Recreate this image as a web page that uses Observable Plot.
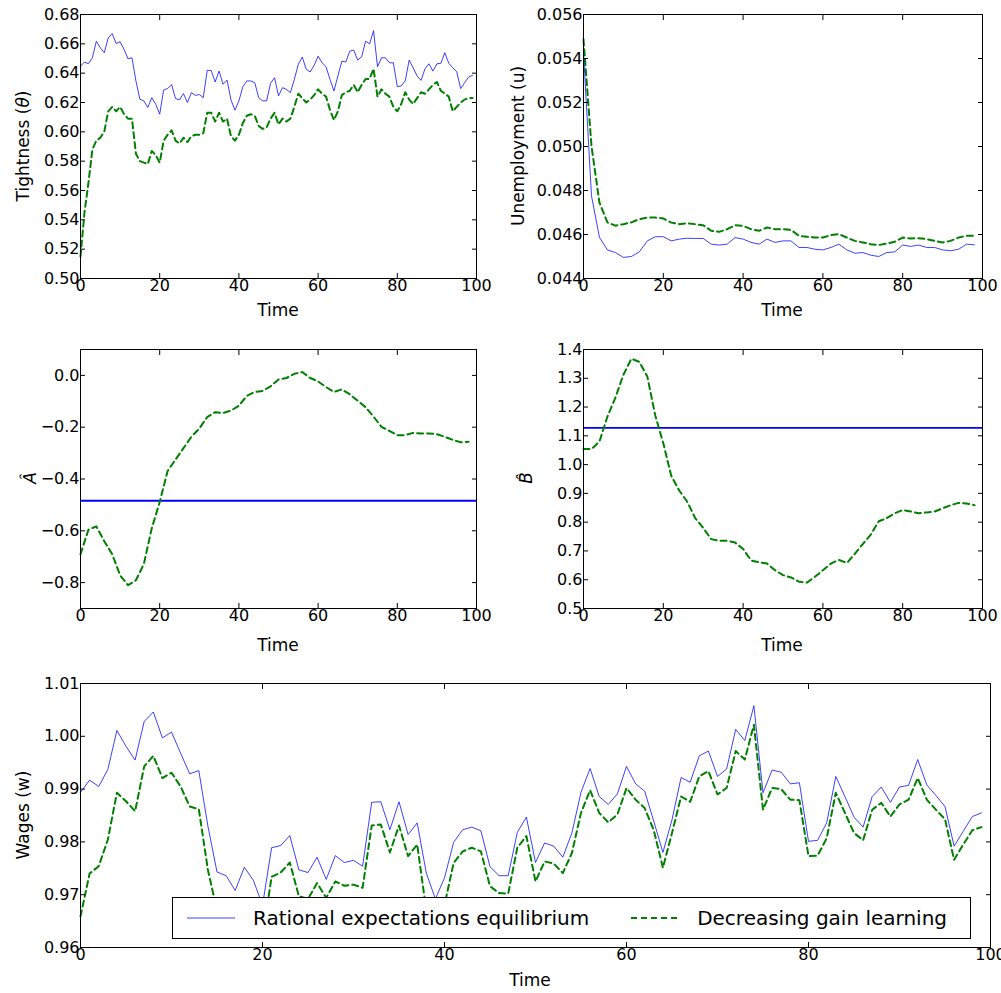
<!DOCTYPE html>
<html><head><meta charset="utf-8">
<script src="https://cdn.jsdelivr.net/npm/d3@7"></script>
<script src="https://cdn.jsdelivr.net/npm/@observablehq/plot@0.6"></script>
<style>
body{margin:0;background:#fff;font-family:"DejaVu Sans",sans-serif;}
#fig{position:relative;width:1001px;height:993px;}
#fig svg{position:absolute;overflow:visible;}
.lab{position:absolute;font-size:17px;color:#000;white-space:nowrap;}
.rot{transform:translate(-50%,-50%) rotate(-90deg);}
.hc{transform:translateX(-50%);}
#legend{position:absolute;left:172px;top:897px;width:797px;height:40px;border:1px solid #000;background:#fff;font-size:20px;display:flex;align-items:center;white-space:nowrap;}
</style></head><body>
<div id="fig"></div>
<script>
// time axis
const tAll = d3.range(100);
const tEven = d3.range(0, 100, 2);

// Tightness (theta), t = 0..99
const thetaREE = [0.6448,0.6476,0.6464,0.6505,0.6618,0.6573,0.6539,0.6641,0.6670,0.6602,0.6614,0.6562,0.6498,0.6505,0.6347,0.6222,0.6211,0.6166,0.6233,0.6188,0.6120,0.6286,0.6295,0.6322,0.6227,0.6218,0.6261,0.6200,0.6267,0.6249,0.6254,0.6233,0.6419,0.6419,0.6340,0.6414,0.6324,0.6353,0.6218,0.6148,0.6211,0.6308,0.6347,0.6347,0.6335,0.6233,0.6211,0.6211,0.6331,0.6369,0.6245,0.6301,0.6290,0.6267,0.6358,0.6460,0.6510,0.6426,0.6408,0.6453,0.6516,0.6471,0.6444,0.6358,0.6279,0.6381,0.6482,0.6476,0.6550,0.6557,0.6489,0.6512,0.6618,0.6600,0.6690,0.6444,0.6505,0.6505,0.6471,0.6471,0.6308,0.6313,0.6347,0.6489,0.6437,0.6381,0.6351,0.6430,0.6464,0.6414,0.6464,0.6467,0.6539,0.6467,0.6437,0.6410,0.6295,0.6335,0.6374,0.6385];
const thetaDGL = [0.515,0.545,0.565,0.588,0.594,0.596,0.600,0.614,0.617,0.614,0.617,0.612,0.609,0.609,0.585,0.580,0.579,0.578,0.587,0.584,0.579,0.594,0.598,0.601,0.594,0.592,0.596,0.593,0.597,0.598,0.598,0.599,0.613,0.613,0.607,0.613,0.607,0.609,0.597,0.594,0.598,0.606,0.611,0.612,0.611,0.604,0.602,0.603,0.609,0.613,0.605,0.609,0.607,0.609,0.617,0.626,0.623,0.620,0.622,0.625,0.629,0.626,0.624,0.615,0.608,0.614,0.625,0.627,0.628,0.632,0.627,0.632,0.636,0.636,0.643,0.624,0.629,0.626,0.624,0.617,0.614,0.619,0.627,0.622,0.619,0.623,0.627,0.626,0.629,0.632,0.634,0.628,0.626,0.624,0.614,0.617,0.620,0.622,0.623,0.623];

// Unemployment, sampled at t = 0,2,...,98
const uREE = [0.0543,0.04776,0.04587,0.0453,0.04518,0.04496,0.0450,0.04521,0.04571,0.0459,0.0459,0.04571,0.04579,0.04583,0.04582,0.04582,0.04556,0.04552,0.04556,0.04586,0.04579,0.04564,0.04556,0.04579,0.04564,0.04571,0.04571,0.04541,0.04541,0.04533,0.0453,0.04541,0.04556,0.0453,0.04515,0.04518,0.04506,0.0450,0.04518,0.04521,0.04552,0.04546,0.04552,0.04541,0.04541,0.0453,0.04526,0.04533,0.04556,0.04553];
const uDGL = [0.05487,0.05002,0.04745,0.04655,0.0464,0.04647,0.04655,0.0467,0.04677,0.04677,0.04673,0.04654,0.04647,0.04651,0.04647,0.04642,0.04617,0.04612,0.04624,0.04642,0.04639,0.04624,0.04617,0.04632,0.04624,0.04624,0.04621,0.04594,0.0459,0.04586,0.04586,0.04597,0.04602,0.04586,0.04571,0.04564,0.04556,0.04552,0.04559,0.04567,0.04586,0.04582,0.04583,0.04579,0.04571,0.04564,0.04571,0.04586,0.04594,0.04594];

// A-hat and B-hat (learning), sampled at t = 0,2,...,98
const aDGL = [-0.690,-0.596,-0.583,-0.640,-0.690,-0.772,-0.810,-0.791,-0.728,-0.590,-0.489,-0.369,-0.325,-0.281,-0.237,-0.205,-0.161,-0.142,-0.145,-0.136,-0.117,-0.079,-0.064,-0.060,-0.042,-0.016,-0.010,0.006,0.013,-0.010,-0.023,-0.045,-0.064,-0.054,-0.073,-0.098,-0.123,-0.159,-0.199,-0.214,-0.231,-0.231,-0.222,-0.224,-0.224,-0.227,-0.237,-0.249,-0.258,-0.256];
const bDGL = [1.054,1.054,1.080,1.167,1.233,1.312,1.368,1.357,1.306,1.170,1.074,0.961,0.910,0.871,0.814,0.780,0.741,0.735,0.735,0.729,0.707,0.667,0.661,0.656,0.633,0.616,0.608,0.593,0.590,0.610,0.633,0.656,0.669,0.658,0.690,0.724,0.757,0.803,0.814,0.831,0.842,0.837,0.831,0.834,0.837,0.848,0.859,0.867,0.865,0.859];
const aREE = -0.484;
const bREE = 1.128;

// Wages, t = 0..99
const wREE = [0.9894,0.9917,0.9905,0.9937,1.0011,0.9981,0.9955,1.0028,1.0046,0.9997,1.0008,0.9968,0.9929,0.9935,0.9830,0.9743,0.9736,0.9708,0.9752,0.9727,0.9680,0.9789,0.9793,0.9812,0.9747,0.9742,0.9771,0.9729,0.9774,0.9761,0.9765,0.9754,0.9875,0.9876,0.9823,0.9876,0.9814,0.9836,0.9741,0.9692,0.9732,0.9799,0.9823,0.9828,0.9821,0.9753,0.9736,0.9736,0.9818,0.9847,0.9761,0.9798,0.9792,0.9771,0.9817,0.9894,0.9939,0.9886,0.9871,0.9891,0.9943,0.9910,0.9896,0.9839,0.9780,0.9842,0.9922,0.9913,0.9963,0.9972,0.9924,0.9938,1.0013,0.9992,1.0058,0.9893,0.9936,0.9932,0.9910,0.9912,0.9801,0.9803,0.9836,0.9924,0.9886,0.9847,0.9828,0.9886,0.9904,0.9875,0.9904,0.9907,0.9956,0.9908,0.9888,0.9867,0.9792,0.9820,0.9848,0.9855];
const wDGL = [0.9659,0.9740,0.9754,0.9804,0.9893,0.9877,0.9858,0.9943,0.9963,0.9921,0.9931,0.9905,0.9867,0.9862,0.9747,0.9670,0.9650,0.9640,0.9660,0.9640,0.9620,0.9734,0.9742,0.9761,0.9697,0.9692,0.9722,0.9694,0.9725,0.9717,0.9719,0.9713,0.9831,0.9833,0.9780,0.9831,0.9773,0.9795,0.9670,0.9630,0.9680,0.9760,0.9782,0.9789,0.9782,0.9716,0.9703,0.9702,0.9789,0.9811,0.9725,0.9763,0.9759,0.9741,0.9779,0.9855,0.9898,0.9855,0.9837,0.9852,0.9902,0.9880,0.9864,0.9822,0.9751,0.9817,0.9886,0.9876,0.9924,0.9934,0.9890,0.9902,0.9972,0.9956,1.0022,0.9861,0.9902,0.9900,0.9880,0.9879,0.9773,0.9774,0.9807,0.9893,0.9855,0.9817,0.9803,0.9861,0.9874,0.9848,0.9871,0.9880,0.9921,0.9880,0.9861,0.9843,0.9766,0.9795,0.9822,0.9828];

const reeStyle = {stroke: "#0000ff", strokeOpacity: 0.75, strokeWidth: 1};
const dglStyle = {stroke: "#008000", strokeWidth: 2, strokeDasharray: "6,4"};
const fig = document.getElementById("fig");

function panel(o) {
  const xTicks = [0, 20, 40, 60, 80, 100];
  const none = () => "";
  const p = Plot.plot({
    width: o.w, height: o.h,
    marginLeft: 80, marginRight: o.w - 80 - o.pw, marginTop: o.mt, marginBottom: o.h - o.mt - o.ph,
    style: {fontFamily: "DejaVu Sans, sans-serif", fontSize: "16px", color: "#000", background: "none"},
    x: {domain: [0, 100]},
    y: {domain: o.yDomain},
    marks: [
      ...o.marks,
      Plot.axisX({ticks: xTicks, tickSize: -5, tickPadding: 6, tickFormat: d => d, label: null}),
      Plot.axisX({anchor: "top", ticks: xTicks, tickSize: -5, tickFormat: none, label: null}),
      Plot.axisY({ticks: o.yTicks, tickSize: -5, tickPadding: 6, tickFormat: o.yFmt, label: null}),
      Plot.axisY({anchor: "right", ticks: o.yTicks, tickSize: -5, tickFormat: none, label: null}),
      Plot.frame({stroke: "#000", strokeWidth: 1})
    ]
  });
  p.style.left = o.left + "px";
  p.style.top = o.top + "px";
  fig.appendChild(p);
}
function label(text, x, y, rot) {
  const d = document.createElement("div");
  d.className = "lab " + (rot ? "rot" : "hc");
  d.style.left = x + "px"; d.style.top = y + "px";
  d.innerHTML = text;
  fig.appendChild(d);
}
const minus = s => s.replace("-", "\u2212");

panel({left: 0, top: 0, w: 500, h: 310, pw: 396, ph: 264, mt: 14,
  yDomain: [0.5, 0.68], yTicks: d3.range(0.5, 0.681, 0.02), yFmt: d => d.toFixed(2),
  marks: [Plot.line(tAll, {x: d => d, y: (d, i) => thetaDGL[i], ...dglStyle}),
          Plot.line(tAll, {x: d => d, y: (d, i) => thetaREE[i], ...reeStyle})]});
panel({left: 503, top: 0, w: 500, h: 310, pw: 399, ph: 264, mt: 14,
  yDomain: [0.044, 0.056], yTicks: d3.range(0.044, 0.0561, 0.002), yFmt: d => d.toFixed(3),
  marks: [Plot.line(tEven, {x: d => d, y: (d, i) => uDGL[i], ...dglStyle}),
          Plot.line(tEven, {x: d => d, y: (d, i) => uREE[i], ...reeStyle})]});
panel({left: 0, top: 320, w: 500, h: 320, pw: 396, ph: 259, mt: 29,
  yDomain: [-0.9, 0.1], yTicks: [-0.8, -0.6, -0.4, -0.2, 0], yFmt: d => minus(d.toFixed(1)),
  marks: [Plot.ruleY([aREE], {stroke: "#0000ff", strokeWidth: 1.8}),
          Plot.line(tEven, {x: d => d, y: (d, i) => aDGL[i], ...dglStyle})]});
panel({left: 503, top: 320, w: 500, h: 320, pw: 399, ph: 259, mt: 29,
  yDomain: [0.5, 1.4], yTicks: d3.range(0.5, 1.41, 0.1), yFmt: d => d.toFixed(1),
  marks: [Plot.ruleY([bREE], {stroke: "#0000ff", strokeWidth: 1.8}),
          Plot.line(tEven, {x: d => d, y: (d, i) => bDGL[i], ...dglStyle})]});
panel({left: 0, top: 650, w: 1001, h: 330, pw: 910, ph: 264, mt: 33,
  yDomain: [0.96, 1.01], yTicks: d3.range(0.96, 1.0101, 0.01), yFmt: d => d.toFixed(2),
  marks: [Plot.line(tAll, {x: d => d, y: (d, i) => wDGL[i], ...dglStyle}),
          Plot.line(tAll, {x: d => d, y: (d, i) => wREE[i], ...reeStyle})]});

label("Time", 278, 300); label("Time", 782, 300);
label("Time", 278, 635); label("Time", 782, 635);
label("Time", 530, 970);
label("Tightness (<i>θ</i>)", 23, 146, true);
label("Unemployment (u)", 518, 146, true);
label("<i>Â</i>", 30, 478, true);
label("<i>B̂</i>", 526, 478, true);
label("Wages (w)", 23, 815, true);

const lg = document.createElement("div");
lg.id = "legend";
lg.innerHTML = `<svg width="60" height="20" style="position:static;margin-left:12px;flex:none"><line x1="2" y1="10" x2="50" y2="10" stroke="#0000ff" stroke-opacity="0.75"/></svg>
<span style="margin-left:8px">Rational expectations equilibrium</span>
<svg width="60" height="20" style="position:static;margin-left:40px;flex:none"><line x1="2" y1="10" x2="50" y2="10" stroke="#008000" stroke-width="2" stroke-dasharray="6,4"/></svg>
<span style="margin-left:8px">Decreasing gain learning</span>`;
fig.appendChild(lg);
</script>
</body></html>
